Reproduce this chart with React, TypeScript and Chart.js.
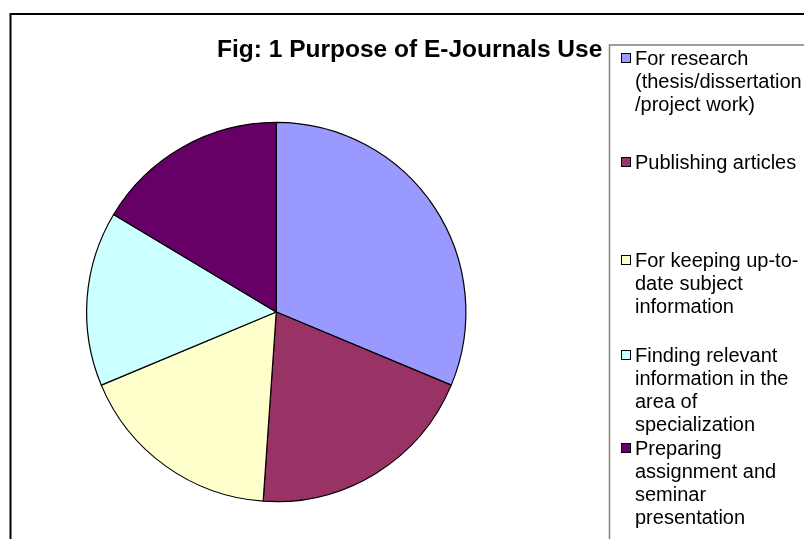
import React, { useEffect, useRef } from "react";
import { Chart, registerables } from "chart.js";

Chart.register(...registerables);

const title = "Fig: 1 Purpose of E-Journals Use";
const categories: string[][] = [
  ["For research", "(thesis/dissertation", "/project work)"],
  ["Publishing articles"],
  ["For keeping up-to-", "date subject", "information"],
  ["Finding relevant", "information in the", "area of", "specialization"],
  ["Preparing", "assignment and", "seminar", "presentation"],
];
const values = [31.3, 19.8, 17.6, 14.9, 16.4];
const colors = ["#9999FF", "#993366", "#FFFFCC", "#CCFFFF", "#660066"];
const legendRowY = [58, 162, 260, 355, 448];

const FONT = "'Liberation Sans', Arial, sans-serif";

const decorPlugin = {
  id: "decor",
  beforeDraw(chart: any) {
    const ctx = chart.ctx;
    ctx.save();
    ctx.fillStyle = "#ffffff";
    ctx.fillRect(0, 0, chart.width, chart.height);
    ctx.strokeStyle = "#000000";
    ctx.lineWidth = 2;
    ctx.strokeRect(10.5, 14, 1000, 1000);
    ctx.strokeStyle = "#808080";
    ctx.lineWidth = 1.5;
    ctx.strokeRect(609.5, 45, 500, 600);
    ctx.restore();
  },
  afterDraw(chart: any) {
    const ctx = chart.ctx;
    ctx.save();
    ctx.fillStyle = "#000000";
    ctx.font = `bold 24.5px ${FONT}`;
    ctx.textAlign = "left";
    ctx.textBaseline = "alphabetic";
    ctx.fillText(title, 217, 57);
    ctx.font = `20px ${FONT}`;
    ctx.textBaseline = "middle";
    const labels = chart.data.labels as string[][];
    const bg = chart.data.datasets[0].backgroundColor as string[];
    labels.forEach((lines, i) => {
      const y0 = legendRowY[i];
      ctx.fillStyle = bg[i];
      ctx.fillRect(621, y0 - 5, 10, 10);
      ctx.strokeStyle = "#000000";
      ctx.lineWidth = 1;
      ctx.strokeRect(621.5, y0 - 4.5, 9, 9);
      ctx.fillStyle = "#000000";
      lines.forEach((line, j) => {
        ctx.fillText(line, 635, y0 + j * 23 + 1);
      });
    });
    ctx.restore();
  },
};

export default function App() {
  const ref = useRef<HTMLCanvasElement | null>(null);
  useEffect(() => {
    if (!ref.current) return;
    const chart = new Chart(ref.current, {
      type: "pie",
      data: {
        labels: categories,
        datasets: [
          {
            data: values,
            backgroundColor: colors,
            borderColor: "#000000",
            borderWidth: 1.2,
          },
        ],
      },
      options: {
        responsive: false,
        animation: false,
        layout: { padding: { left: 86, right: 337.5, top: 121.5, bottom: 36.5 } },
        plugins: {
          legend: { display: false },
          title: { display: false },
          tooltip: { enabled: false },
        },
      },
      plugins: [decorPlugin],
    });
    return () => chart.destroy();
  }, []);
  return (
    <div style={{ position: "fixed", left: 0, top: 0, width: 804, height: 539, background: "#fff" }}>
      <canvas ref={ref} width={804} height={539} style={{ width: 804, height: 539 }} />
    </div>
  );
}
